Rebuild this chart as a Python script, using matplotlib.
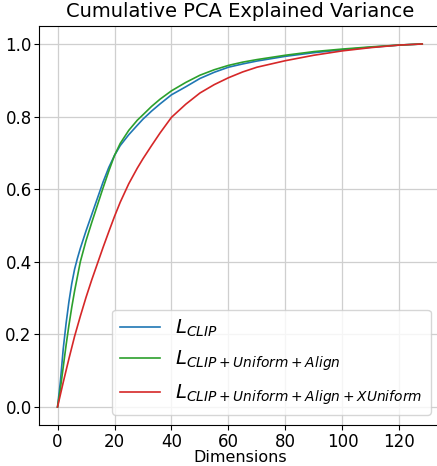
import matplotlib
matplotlib.use("Agg")
import matplotlib.pyplot as plt

# dimensions (x) and cumulative explained variance
dims_clip = [0, 1, 2, 3, 4, 5, 6, 7, 8, 10, 12, 14, 16, 18, 20, 22, 25, 28, 30, 33, 36, 40,
             45, 50, 55, 60, 65, 70, 80, 90, 100, 110, 120, 128]
var_clip = [0.0, 0.07, 0.16, 0.23, 0.29, 0.34, 0.38, 0.41, 0.437, 0.485, 0.53, 0.575, 0.62,
            0.66, 0.693, 0.72, 0.75, 0.776, 0.793, 0.815, 0.835, 0.86,
            0.882, 0.905, 0.922, 0.936, 0.945, 0.953, 0.966, 0.976, 0.984, 0.991, 0.997, 1.0]

dims_ua = [0, 1, 2, 3, 4, 5, 6, 8, 10, 12, 14, 16, 18, 20, 22, 25, 28, 30, 33, 36, 40,
           45, 50, 55, 60, 65, 70, 80, 90, 100, 110, 120, 128]
var_ua = [0.0, 0.05, 0.11, 0.17, 0.225, 0.275, 0.32, 0.4, 0.458, 0.508, 0.556, 0.604,
          0.65, 0.693, 0.726, 0.762, 0.79, 0.805, 0.828, 0.848, 0.871,
          0.894, 0.914, 0.929, 0.941, 0.95, 0.957, 0.969, 0.979, 0.986, 0.992, 0.997, 1.0]

dims_xu = [0, 2, 4, 6, 8, 10, 12, 14, 16, 18, 20, 22, 25, 28, 30, 33, 36, 40,
           45, 50, 55, 60, 65, 70, 80, 90, 100, 110, 120, 128]
var_xu = [0.0, 0.068, 0.133, 0.195, 0.25, 0.302, 0.35, 0.395, 0.44, 0.483, 0.525, 0.564,
          0.615, 0.658, 0.684, 0.72, 0.755, 0.798,
          0.834, 0.865, 0.888, 0.907, 0.923, 0.936, 0.954, 0.969, 0.981, 0.99, 0.997, 1.0]

labels = [r"$L_{CLIP}$",
          r"$L_{CLIP+Uniform+Align}$",
          r"$L_{CLIP+Uniform+Align+XUniform}$"]

fig = plt.figure(figsize=(4.37, 4.66), dpi=100)
# right edge of the axes sits just past the image edge, like the reference crop
ax = fig.add_axes([0.0899, 0.0876, 0.918, 0.857])

ax.plot(dims_clip, var_clip, color="tab:blue", lw=1.2, label=labels[0])
ax.plot(dims_ua, var_ua, color="tab:green", lw=1.2, label=labels[1])
ax.plot(dims_xu, var_xu, color="tab:red", lw=1.2, label=labels[2])

ax.grid(True, color="#cfcfcf", lw=0.9)
ax.set_axisbelow(True)
ax.set_title("Cumulative PCA Explained Variance", fontsize=14)
ax.set_xlabel("Dimensions", fontsize=11.5, labelpad=-0.5)
ax.tick_params(labelsize=12, pad=2)
ax.set_xticks([0, 20, 40, 60, 80, 100, 120])
ax.legend(loc="lower right", fontsize=14.2)

fig.savefig("out.png", dpi=100)
